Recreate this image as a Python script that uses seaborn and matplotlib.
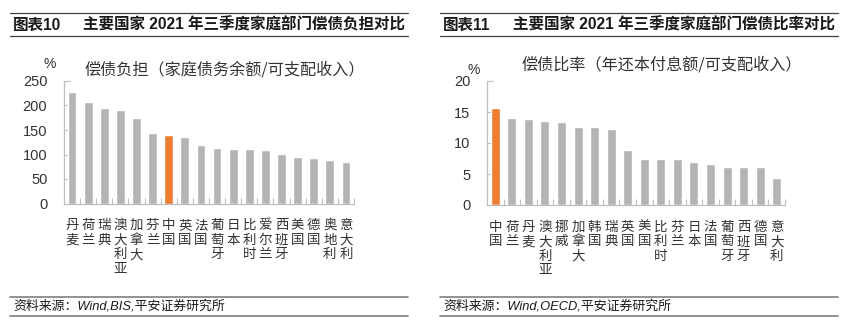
import matplotlib
matplotlib.use('Agg')
import matplotlib.pyplot as plt
import seaborn as sns
import pandas as pd
from matplotlib.lines import Line2D

# ---------------- data ----------------
left_categories = ['丹麦', '荷兰', '瑞典', '澳大利亚', '加拿大', '芬兰', '中国', '英国', '法国',
                   '葡萄牙', '日本', '比利时', '爱尔兰', '西班牙', '美国', '德国', '奥地利', '意大利']
left_values = [227, 208, 194, 191, 174, 144, 140, 136, 118.5, 114, 112, 111, 110, 101.5, 95, 92.5, 88.5, 84]

right_categories = ['中国', '荷兰', '丹麦', '澳大利亚', '挪威', '加拿大', '韩国', '瑞典', '英国',
                    '美国', '比利时', '芬兰', '日本', '法国', '葡萄牙', '西班牙', '德国', '意大利']
right_values = [15.6, 14.0, 13.8, 13.6, 13.4, 12.6, 12.6, 12.2, 8.8, 7.5, 7.4, 7.4, 7.0, 6.6, 6.1, 6.1, 6.1, 4.4]

left_yticks = [0, 50, 100, 150, 200, 250]
right_yticks = [0, 5, 10, 15, 20]

left_header = '图表10'
right_header = '图表11'
left_title = '主要国家 2021 年三季度家庭部门偿债负担对比'
right_title = '主要国家 2021 年三季度家庭部门偿债比率对比'
left_subtitle = '偿债负担（家庭债务余额/可支配收入）'
right_subtitle = '偿债比率（年还本付息额/可支配收入）'
left_source = '资料来源：Wind,BIS,平安证券研究所'
right_source = '资料来源：Wind,OECD,平安证券研究所'
highlight = '中国'

# ---------------- style ----------------
sns.set_theme(style='white')
CJK = ['Noto Sans CJK SC', 'DejaVu Sans']
NUM = ['Liberation Sans', 'Noto Sans CJK SC', 'DejaVu Sans']
plt.rcParams['font.family'] = NUM

GRAY = '#b4b4b4'
ORANGE = '#ed7d31'
SPINE = '#bfbfbf'
TXT = '#333333'

W, H = 858, 326
fig = plt.figure(figsize=(W / 100, H / 100), dpi=100)
fig.patch.set_facecolor('white')


def fx(x):
    return x / W


def fy(y):
    return 1 - y / H


def add_axes(x0, x1, ytop, ybot):
    return fig.add_axes([fx(x0), fy(ybot), fx(x1) - fx(x0), (ybot - ytop) / H])


def draw(ax, cats, vals, yticks):
    df = pd.DataFrame({'cat': cats, 'val': vals})
    palette = {c: (ORANGE if c == highlight else GRAY) for c in cats}
    sns.barplot(data=df, x='cat', y='val', hue='cat', order=cats, hue_order=cats,
                palette=palette, legend=False, width=0.55, saturation=1, ax=ax)
    n = len(cats)
    ax.set_xlim(-0.5, n - 0.5)
    ax.set_ylim(yticks[0], yticks[-1])
    ax.set_yticks(yticks)
    ax.set_xlabel('')
    ax.set_ylabel('')
    ax.set_xticks(range(n))
    ax.set_xticklabels(['\n'.join(c) for c in cats], family=CJK, fontsize=9.7,
                       color=TXT, linespacing=1.05, va='top')
    ax.set_xticks([i + 0.5 for i in range(n)], minor=True)
    ax.tick_params(axis='x', which='major', length=0, pad=10.5)
    ax.tick_params(axis='x', which='minor', direction='in', length=4, width=0.8,
                   color=SPINE, bottom=True)
    ax.tick_params(axis='y', direction='in', length=4, width=0.8, color=SPINE,
                   labelsize=10.5, labelcolor=TXT, pad=12, left=True)
    for lab in ax.get_yticklabels():
        lab.set_family(NUM)
    for s in ['top', 'right']:
        ax.spines[s].set_visible(False)
    for s in ['left', 'bottom']:
        ax.spines[s].set_color(SPINE)
        ax.spines[s].set_linewidth(0.9)
    ax.set_facecolor('white')


axL = add_axes(64, 354, 81, 203.5)
draw(axL, left_categories, left_values, left_yticks)
axR = add_axes(487, 785, 81, 205)
draw(axR, right_categories, right_values, right_yticks)

# subtitles and unit marks
fig.text(fx(225), fy(70), left_subtitle, family=CJK, fontsize=11.6, color=TXT, ha='center', va='center')
fig.text(fx(662), fy(65), right_subtitle, family=CJK, fontsize=11.6, color=TXT, ha='center', va='center')
fig.text(fx(50), fy(64), '%', family=NUM, fontsize=10, color=TXT, ha='center', va='center')
fig.text(fx(474), fy(70), '%', family=NUM, fontsize=10, color=TXT, ha='center', va='center')


def hline(x0, x1, y, color, lw):
    fig.add_artist(Line2D([fx(x0), fx(x1)], [fy(y), fy(y)], transform=fig.transFigure,
                          color=color, linewidth=lw))


for (x0, x1, hdr, ttl, src) in [(10, 408, left_header, left_title, left_source),
                                 (440, 838, right_header, right_title, right_source)]:
    hline(x0, x1, 13, '#404040', 0.9)
    hline(x0, x1, 36, '#404040', 0.9)
    fig.text(fx(x0 + 3), fy(25), hdr, family=NUM, fontsize=11.2, fontweight='bold',
             color='#1a1a1a', ha='left', va='center')
    fig.text(fx(x0 + 73), fy(25), ttl, family=NUM, fontsize=11.2, fontweight='bold',
             color='#1a1a1a', ha='left', va='center')
    hline(x0, x1, 297, '#7f7f7f', 1.2)
    hline(x0, x1, 316, '#7f7f7f', 1.2)
    fig.text(fx(x0 + 3), fy(306.5), src, family=NUM, fontsize=9.3, style='italic',
             color='#1a1a1a', ha='left', va='center')

fig.savefig('out.png', dpi=100, facecolor='white')
